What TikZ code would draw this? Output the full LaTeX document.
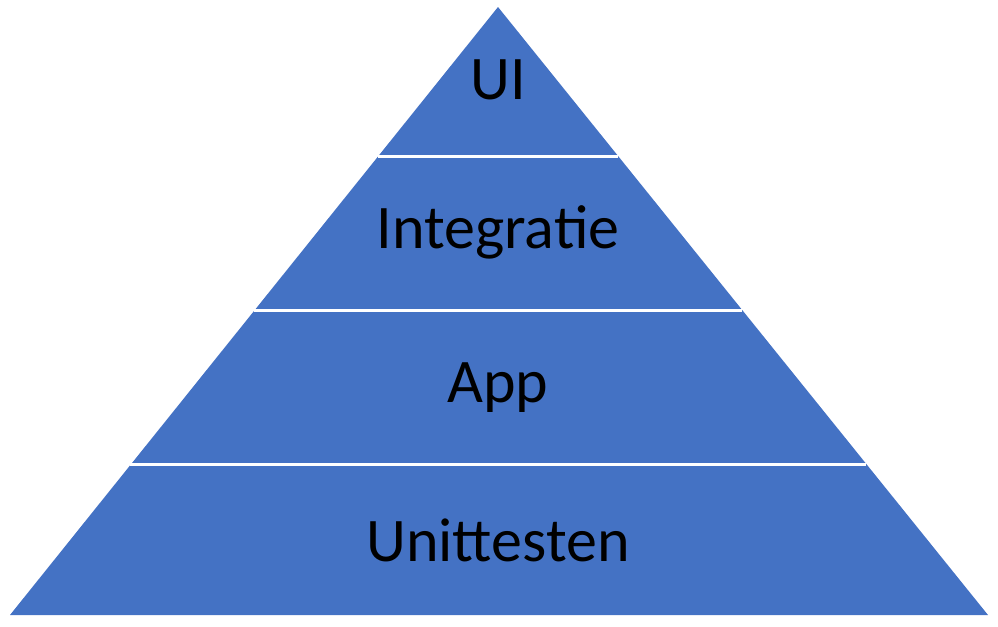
\documentclass[tikz,border=0pt]{standalone}
\usepackage{fontspec}
\setmainfont{Carlito}
\definecolor{layerblue}{HTML}{4472C4}
\tikzstyle{layer} = [fill=layerblue, draw=white, line width=1.5pt]
\tikzstyle{label} = [font=\fontsize{31}{36}\selectfont, text=black]

\begin{document}
\begin{tikzpicture}[x=0.5pt, y=-0.5pt]
   \useasboundingbox (0,0) rectangle (998,627);
   % layers
   \coordinate (top) at (498,7);
   \coordinate (l1) at (378,156);  \coordinate (r1) at (618,156);
   \coordinate (l2) at (254,310);  \coordinate (r2) at (742,310);
   \coordinate (l3) at (130,464);  \coordinate (r3) at (866,464);
   \coordinate (l4) at (10,615);   \coordinate (r4) at (988,615);
   \fill[layerblue] (top) -- (l4) -- (r4) -- cycle;
   \draw[layer] (l1) -- (r1);
   \draw[layer] (l2) -- (r2);
   \draw[layer] (l3) -- (r3);

   % labels
   \node[label] (ui)    at (498,80)  {UI};
   \node[label] (integ) at (498,232) {Integratie};
   \node[label] (app)   at (498,388) {App};
   \node[label] (unit)  at (498,540) {Unittesten};
\end{tikzpicture}
\end{document}
